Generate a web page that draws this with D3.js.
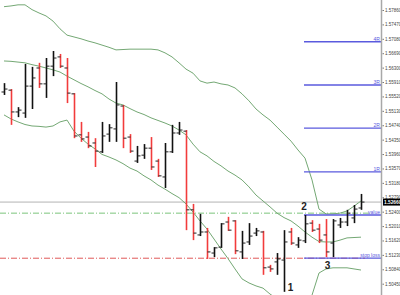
<!DOCTYPE html>
<html><head><meta charset="utf-8">
<script src="https://cdn.jsdelivr.net/npm/d3@7/dist/d3.min.js"></script>
<style>html,body{margin:0;padding:0;background:#fff;overflow:hidden}</style>
</head><body><svg id="c" width="400" height="295"></svg>
<script>
// ---- data ----
const opens  = [1.5564,1.5569,1.5510,1.5507,1.5580,1.5629,1.5586,1.5634,1.5659,1.5629,
                1.5559,1.5448,1.5442,1.5426,1.5402,1.5450,1.5464,1.5526,1.5442,1.5377,
                1.5393,1.5412,1.5377,1.5334,1.5402,1.5453,1.5458,1.5245,1.5177,1.5185,
                1.5128,1.5144,1.5212,1.5215,1.5131,1.5158,1.5182,1.5185,1.5090,1.5104,
                1.5109,1.5185,1.5150,1.5161,1.5209,1.5193,1.5177,1.5155,1.5204,1.5212,
                1.5223,1.5250];
const highs  = [1.5588,1.5572,1.5523,1.5640,1.5632,1.5643,1.5656,1.5675,1.5667,1.5656,
                1.5561,1.5483,1.5456,1.5439,1.5483,1.5477,1.5591,1.5529,1.5450,1.5418,
                1.5423,1.5442,1.5383,1.5426,1.5475,1.5483,1.5461,1.5261,1.5234,1.5196,
                1.5144,1.5209,1.5226,1.5217,1.5188,1.5209,1.5196,1.5188,1.5096,1.5128,
                1.5190,1.5196,1.5171,1.5231,1.5217,1.5207,1.5220,1.5220,1.5223,1.5245,
                1.5258,1.5288];
const lows   = [1.5556,1.5475,1.5496,1.5494,1.5518,1.5575,1.5548,1.5607,1.5629,1.5534,
                1.5439,1.5429,1.5412,1.5361,1.5399,1.5429,1.5429,1.5412,1.5399,1.5372,
                1.5383,1.5353,1.5334,1.5304,1.5399,1.5448,1.5190,1.5163,1.5174,1.5112,
                1.5117,1.5142,1.5188,1.5125,1.5112,1.5150,1.5174,1.5069,1.5077,1.5069,
                1.5023,1.5150,1.5142,1.5155,1.5185,1.5155,1.5117,1.5117,1.5196,1.5201,
                1.5209,1.5245];
const closes = [1.5572,1.5510,1.5515,1.5580,1.5602,1.5586,1.5634,1.5656,1.5634,1.5561,
                1.5445,1.5437,1.5418,1.5404,1.5445,1.5467,1.5529,1.5439,1.5404,1.5391,
                1.5412,1.5361,1.5337,1.5402,1.5453,1.5461,1.5245,1.5182,1.5185,1.5131,
                1.5142,1.5207,1.5190,1.5134,1.5155,1.5174,1.5188,1.5088,1.5085,1.5112,
                1.5158,1.5155,1.5163,1.5207,1.5190,1.5163,1.5131,1.5215,1.5212,1.5236,
                1.5247,1.5266];
const bbUpper  = [1.5795,1.5797,1.5800,1.5800,1.5787,1.5778,1.5770,1.5756,1.5735,1.5718,
                  1.5713,1.5708,1.5702,1.5697,1.5691,1.5685,1.5678,1.5679,1.5680,1.5680,
                  1.5680,1.5680,1.5678,1.5670,1.5659,1.5643,1.5626,1.5615,1.5594,1.5588,
                  1.5591,1.5586,1.5583,1.5575,1.5559,1.5540,1.5518,1.5502,1.5488,1.5469,
                  1.5450,1.5431,1.5407,1.5385,1.5326,1.5247,1.5234,1.5234,1.5236,1.5242,
                  1.5255,1.5269];
const bbMiddle = [1.5648,1.5647,1.5645,1.5643,1.5638,1.5634,1.5629,1.5624,1.5618,1.5607,
                  1.5597,1.5587,1.5578,1.5568,1.5559,1.5545,1.5534,1.5529,1.5519,1.5510,
                  1.5503,1.5494,1.5487,1.5480,1.5472,1.5461,1.5448,1.5423,1.5402,1.5391,
                  1.5376,1.5364,1.5350,1.5339,1.5326,1.5307,1.5285,1.5269,1.5253,1.5236,
                  1.5224,1.5215,1.5201,1.5185,1.5171,1.5159,1.5158,1.5158,1.5163,1.5169,
                  1.5170,1.5171];
const bbLower  = [1.5502,1.5491,1.5483,1.5476,1.5472,1.5471,1.5469,1.5472,1.5483,1.5488,
                  1.5458,1.5439,1.5423,1.5410,1.5395,1.5388,1.5380,1.5370,1.5358,1.5350,
                  1.5337,1.5326,1.5312,1.5301,1.5289,1.5278,1.5261,1.5239,1.5215,1.5193,
                  1.5166,1.5139,1.5113,1.5085,1.5058,1.5047,1.5039,1.5033,1.5017,1.5004,
                  1.4998,1.4998,1.4995,1.4987,1.5014,1.5074,1.5085,1.5088,1.5088,1.5088,
                  1.5085,1.5082];
const priceTicks = ["1.57860","1.57470","1.57080","1.56690","1.56300","1.55910","1.55520",
                    "1.55130","1.54740","1.54350","1.53960","1.53570","1.53180","1.52790",
                    "1.52400","1.52010","1.51620","1.51230","1.50840","1.50450"];
const rLevels = [1.5348, 1.5466, 1.5583, 1.5700];
const rLabels = ["1R", "2R", "3R", "4R"];
const valueLevel = 1.5236;   // green dash-dot line
const entryLevel = 1.5231;   // blue "value" line
const stopLevel  = 1.5114;   // red dash-dot + blue stop line
const currentPrice = 1.5266;
const currentLabel = "1.52660";
const waveLabels = ["1", "2", "3"];
const waveBars   = [40, 43, 46];
const levelStartBar = 43;

// ---- layout ----
const W = 400, H = 295, axisX = 381;
const svg = d3.select("#c");
const n = opens.length;
const bars = d3.range(n);
const x = d3.scaleLinear().domain([0, n - 1]).range([4, 361]);
const tickVals = priceTicks.map(Number);
const y = d3.scaleLinear().domain([tickVals[tickVals.length-1], tickVals[0]]).range([283.7, 10]);

svg.append("defs").append("clipPath").attr("id","plot")
  .append("rect").attr("x",0).attr("y",0).attr("width",axisX).attr("height",H);
const g = svg.append("g").attr("clip-path","url(#plot)");

// current price line
g.append("line").attr("x1",0).attr("x2",axisX).attr("y1",y(currentPrice)).attr("y2",y(currentPrice))
  .attr("stroke","#b4b4b4").attr("stroke-width",1);

// dash-dot lines
g.append("line").attr("x1",0).attr("x2",369).attr("y1",y(valueLevel)).attr("y2",y(valueLevel))
  .attr("stroke","#7cc47c").attr("stroke-width",1).attr("stroke-dasharray","6,2,1,2");
g.append("line").attr("x1",0).attr("x2",365).attr("y1",y(stopLevel)).attr("y2",y(stopLevel))
  .attr("stroke","#e05858").attr("stroke-width",1).attr("stroke-dasharray","6,2,1,2");

// bollinger bands
const line = arr => d3.line().x(i => x(i)).y(i => y(arr[i]))(bars);
[bbUpper, bbMiddle, bbLower].forEach(arr => {
  g.append("path").attr("d", line(arr)).attr("fill","none")
    .attr("stroke","#74a874").attr("stroke-width",1);
});

// blue R levels
const blue = "#5a5ade";
rLevels.forEach((v, i) => {
  g.append("line").attr("x1",x(levelStartBar)-1).attr("x2",axisX).attr("y1",y(v)).attr("y2",y(v))
    .attr("stroke",blue).attr("stroke-width",1.3);
  g.append("text").attr("x",axisX-1).attr("y",y(v)-0.8).attr("text-anchor","end")
    .attr("font-family","Liberation Sans, Arial, sans-serif").attr("font-size",5)
    .attr("fill",blue).text(rLabels[i]);
});
[entryLevel, stopLevel].forEach(v => {
  g.append("line").attr("x1",x(levelStartBar)-1).attr("x2",axisX).attr("y1",y(v)).attr("y2",y(v))
    .attr("stroke",blue).attr("stroke-width",1.3);
});
g.append("text").attr("x",axisX-1).attr("y",y(valueLevel)+0.5).attr("text-anchor","end")
  .attr("font-family","Liberation Sans, Arial, sans-serif").attr("font-size",5)
  .attr("fill",blue).text("value");
g.append("text").attr("x",axisX-1).attr("y",y(stopLevel)-0.8).attr("text-anchor","end")
  .attr("font-family","Liberation Sans, Arial, sans-serif").attr("font-size",5)
  .attr("fill",blue).text("stop loss");

// OHLC bars
const bg = g.append("g");
bars.forEach(i => {
  const up = closes[i] >= opens[i];
  const col = up ? "#111" : "#f23c3c";
  const cx = Math.round(x(i)) + 0.5;
  bg.append("line").attr("x1",cx).attr("x2",cx).attr("y1",y(highs[i])).attr("y2",y(lows[i]))
    .attr("stroke",col).attr("stroke-width",1.6);
  bg.append("line").attr("x1",cx-3).attr("x2",cx).attr("y1",y(opens[i])).attr("y2",y(opens[i]))
    .attr("stroke","#222").attr("stroke-width",1);
  bg.append("line").attr("x1",cx).attr("x2",cx+3).attr("y1",y(closes[i])).attr("y2",y(closes[i]))
    .attr("stroke","#222").attr("stroke-width",1);
});

// wave labels
const waveOffsets = [[6.5, -1.2], [-1, -4.5], [1.5, 11.5]];
const wavePrices = [lows[waveBars[0]], highs[waveBars[1]], lows[waveBars[2]]];
waveLabels.forEach((t, k) => {
  g.append("text").attr("x", x(waveBars[k]) + waveOffsets[k][0])
    .attr("y", y(wavePrices[k]) + waveOffsets[k][1])
    .attr("text-anchor","middle").attr("font-family","Liberation Sans, Arial, sans-serif")
    .attr("font-weight","bold").attr("font-size",10).attr("fill","#222").text(t);
});

// right axis
const axis = d3.axisRight(y).tickValues(tickVals).tickFormat((d, i) => priceTicks[i]).tickSize(2).tickPadding(1.5);
const ag = svg.append("g").attr("transform",`translate(${axisX},0)`).call(axis);
ag.select(".domain").attr("stroke","#a8a8a8").attr("stroke-width",1.5).attr("d",`M0.5,0V${H}`);
ag.selectAll(".tick line").attr("stroke","#777").attr("x1",1.5).attr("x2",3);
ag.selectAll(".tick text").attr("font-family","Liberation Sans, Arial, sans-serif")
  .attr("font-size",4.5).attr("fill","#444").attr("x",4);

// current price box
svg.append("rect").attr("x",axisX+2).attr("y",y(currentPrice)-3.5).attr("width",W-axisX-2).attr("height",7).attr("fill","#000");
svg.append("text").attr("x",axisX+3).attr("y",y(currentPrice)+1.7)
  .attr("font-family","Liberation Sans, Arial, sans-serif").attr("font-size",4.8)
  .attr("font-weight","bold").attr("fill","#fff").text(currentLabel);
</script></body></html>
